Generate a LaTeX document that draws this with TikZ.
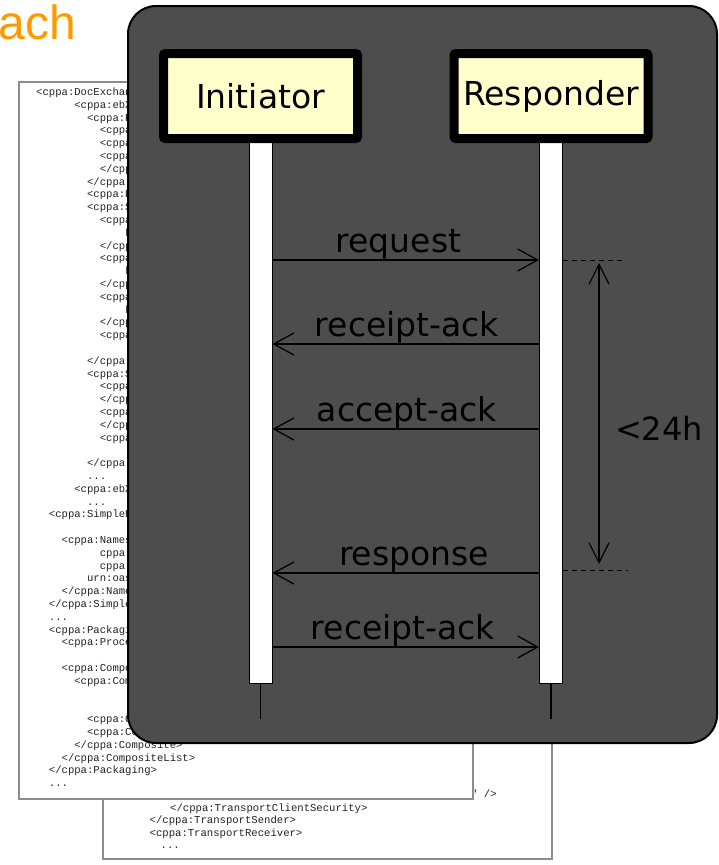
\documentclass[tikz,border=0pt]{standalone}
\usepackage{fontspec}
\setmainfont{DejaVu Sans}
\newfontfamily\codefont{Liberation Mono}
\newfontfamily\titlefont{Liberation Sans}
\usetikzlibrary{arrows.meta}
\definecolor{panelgray}{HTML}{4D4D4D}
\definecolor{actorfill}{HTML}{FFFFCC}
\definecolor{titleorange}{HTML}{FF9900}
\definecolor{boxgray}{HTML}{8C8C8C}
\definecolor{codeink}{HTML}{222222}
\tikzset{
  codeline/.style={anchor=base west, inner sep=0pt, text=codeink,
    font=\codefont\fontsize{10.6}{12}\selectfont},
  paper/.style={draw=boxgray, line width=1.5pt, fill=white, inner sep=0pt},
  panelbox/.style={draw=black, line width=2pt, fill=panelgray, rounded corners=28pt,
    minimum width=589pt, minimum height=737pt, inner sep=0pt},
  actor/.style={draw=black, line width=9pt, fill=actorfill, rounded corners=2pt,
    minimum width=194pt, minimum height=85pt, inner sep=0pt,
    font=\fontsize{33}{40}\selectfont},
  actbar/.style={draw=black, line width=1pt, fill=white, minimum width=23pt,
    minimum height=544pt, inner sep=0pt},
  lifeline/.style={draw=black, line width=1.1pt},
  msg/.style={draw=black, line width=1.3pt,
    -{Straight Barb[length=20pt,width=22pt]}},
  span/.style={draw=black, line width=1.2pt,
    {Straight Barb[length=20pt,width=20pt]}-{Straight Barb[length=20pt,width=20pt]}},
  guide/.style={draw=black, line width=1pt, dash pattern=on 5pt off 4pt},
  lbl/.style={anchor=base, inner sep=0pt, text=black, font=\fontsize{33}{40}\selectfont},
}
\newcommand\cl[3]{\node[codeline] (c#1) at ({36+6.36*#2},{95.5+12.8*#1}) {#3};}
\begin{document}
\begin{tikzpicture}[x=1pt,y=-1pt]
\useasboundingbox (0,0) rectangle (718,865);
% back paper
\node[paper, minimum width=449pt, minimum height=459pt] (backpaper) at (327.5,629.5) {};
\node[codeline] (b0) at (471,797.5) {" />};
\node[codeline] (b1) at (170,811.5) {</cppa:TransportClientSecurity>};
\node[codeline] (b2) at (149.5,823.8) {</cppa:TransportSender>};
\node[codeline] (b3) at (149.5,836) {<cppa:TransportReceiver>};
\node[codeline] (b4) at (160.5,848.5) {...};
% front paper
\node[paper, minimum width=454pt, minimum height=717pt] (frontpaper) at (246,440.5) {};
\cl{0}{0}{<cppa:DocExchan}
\cl{1}{6}{<cppa:ebX}
\cl{2}{8}{<cppa:P}
\cl{3}{10}{<cppa}
\cl{4}{10}{<cppa}
\cl{5}{10}{<cppa}
\cl{6}{10}{</cpp}
\cl{7}{8}{</cppa:}
\cl{8}{8}{<cppa:E}
\cl{9}{8}{<cppa:S}
\cl{10}{10}{<cppa}
\cl{11}{14}{k}
\cl{12}{10}{</cpp}
\cl{13}{10}{<cppa}
\cl{14}{14}{k}
\cl{15}{10}{</cpp}
\cl{16}{10}{<cppa}
\cl{17}{14}{k}
\cl{18}{10}{</cpp}
\cl{19}{10}{<cppa}
\cl{21}{8}{</cppa:}
\cl{22}{8}{<cppa:S}
\cl{23}{10}{<cppa}
\cl{24}{10}{</cpp}
\cl{25}{10}{<cppa}
\cl{26}{10}{</cpp}
\cl{27}{10}{<cppa}
\cl{29}{8}{</cppa:}
\cl{30}{8}{...}
\cl{31}{6}{<cppa:ebX}
\cl{32}{8}{...}
\cl{33}{2}{<cppa:SimpleP}
\cl{35}{4}{<cppa:Names}
\cl{36}{10}{cppa:}
\cl{37}{10}{cppa:}
\cl{38}{8}{urn:oas}
\cl{39}{4}{</cppa:Name}
\cl{40}{2}{</cppa:Simple}
\cl{41}{2}{...}
\cl{42}{2}{<cppa:Packagi}
\cl{43}{4}{<cppa:Proce}
\cl{45}{4}{<cppa:Compo}
\cl{46}{6}{<cppa:Com}
\cl{49}{8}{<cppa:C}
\cl{50}{8}{<cppa:Co}
\cl{51}{6}{</cppa:Composite>}
\cl{52}{4}{</cppa:CompositeList>}
\cl{53}{2}{</cppa:Packaging>}
\cl{54}{2}{...}
% title fragment
\node[anchor=base east, inner sep=0pt, text=titleorange,
  font=\titlefont\fontsize{48}{56}\selectfont] (ttl) at (76.5,39) {ach};
% panel
\node[panelbox] (panel) at (422.5,374.5) {};
% activation bars and lifelines
\node[actbar] (iact) at (260.5,411) {};
\node[actbar] (ract) at (551,411) {};
\coordinate (iend) at (260.5,719);
\coordinate (rend) at (551,719);
\draw[lifeline] (iact.south) -- (iend);
\draw[lifeline] (ract.south) -- (rend);
% actors
\node[actor] (init) at (260.5,96) {Initiator};
\node[actor] (resp) at (551,96) {Responder};
% messages
\coordinate (m1) at (0,260);
\coordinate (m2) at (0,344);
\coordinate (m3) at (0,429);
\coordinate (m4) at (0,573);
\coordinate (m5) at (0,647);
\draw[msg] (iact.east |- m1) -- (ract.west |- m1);
\draw[msg] (ract.west |- m2) -- (iact.east |- m2);
\draw[msg] (ract.west |- m3) -- (iact.east |- m3);
\draw[msg] (ract.west |- m4) -- (iact.east |- m4);
\draw[msg] (iact.east |- m5) -- (ract.west |- m5);
\node[lbl] (l1) at (398.5,252.5) {request};
\node[lbl] (l2) at (407,336.5) {receipt-ack};
\node[lbl] (l3) at (407,421.5) {accept-ack};
\node[lbl] (l4) at (414,565.5) {response};
\node[lbl] (l5) at (403,639.5) {receipt-ack};
% time constraint
\coordinate (g1) at (624,260);
\coordinate (g2y) at (0,570);
\coordinate (g2) at (628,570);
\draw[guide] (ract.east |- m1) -- (g1);
\draw[guide] (ract.east |- g2y) -- (g2);
\coordinate (dtop) at (599,263);
\coordinate (dbot) at (599,564);
\draw[span] (dtop) -- (dbot);
\node[anchor=center, inner sep=0pt, font=\fontsize{32}{38}\selectfont] (dur) at (659,428) {<24h};
\end{tikzpicture}
\end{document}
